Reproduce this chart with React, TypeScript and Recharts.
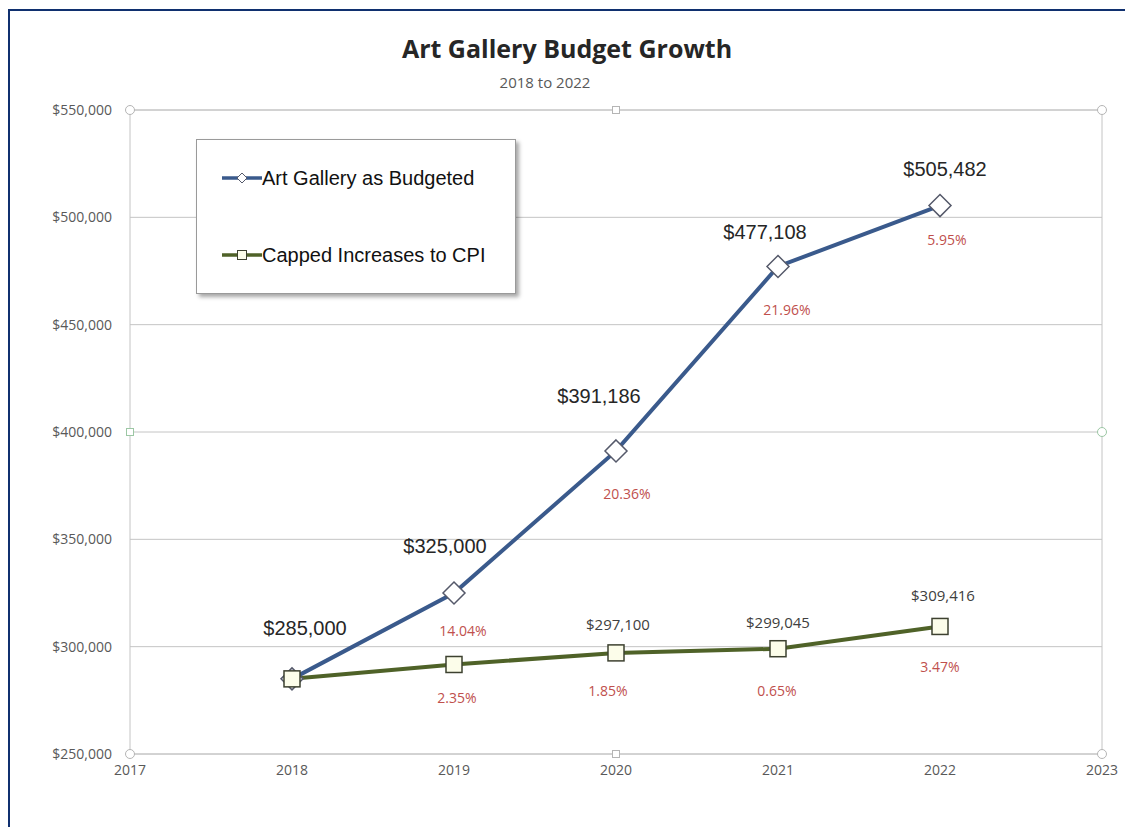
import React from 'react';
import { LineChart, Line, XAxis, YAxis, CartesianGrid, Legend, LabelList, ReferenceLine, ReferenceDot } from 'recharts';

const years = [2018, 2019, 2020, 2021, 2022];
const budgeted = [285000, 325000, 391186, 477108, 505482];
const capped = [285000, 291698, 297100, 299045, 309416];
const budgetedGrowth = [null, 14.04, 20.36, 21.96, 5.95];
const cappedGrowth = [null, 2.35, 1.85, 0.65, 3.47];
const cappedValueShown = [false, false, true, true, true];
const xTicks = [2017, 2018, 2019, 2020, 2021, 2022, 2023];
const yTicks = [250000, 300000, 350000, 400000, 450000, 500000, 550000];

const data = years.map((year, i) => ({
  year,
  budgeted: budgeted[i],
  capped: capped[i],
}));

// label nudges, like hand-placed Excel labels
const budgetedLabelShift = [
  { dx: 13, dy: -51 }, { dx: -9, dy: -47 }, { dx: -17, dy: -55 }, { dx: -13, dy: -34 }, { dx: 5, dy: -37 },
];
const budgetedPctShift = [
  { dx: 0, dy: 0 }, { dx: 9, dy: 37 }, { dx: 11, dy: 43 }, { dx: 9, dy: 43 }, { dx: 7, dy: 34 },
];
const cappedLabelShift = [
  { dx: 0, dy: 0 }, { dx: 0, dy: 0 }, { dx: 2, dy: -29 }, { dx: 0, dy: -27 }, { dx: 3, dy: -31 },
];
const cappedPctShift = [
  { dx: 0, dy: 0 }, { dx: 3, dy: 33 }, { dx: -8, dy: 38 }, { dx: -1, dy: 42 }, { dx: 0, dy: 40 },
];

const BLUE = '#3a5a8c';
const OLIVE = '#4f6228';
const RED = '#c0504d';
const GRID = '#c4c4c4';
const TICK_FONT = '"Open Sans", sans-serif';

const money = (v: number) => '$' + v.toLocaleString('en-US');

const Diamond = (props: any) => {
  const { cx, cy } = props;
  if (cx == null || cy == null) return null;
  const s = 11;
  return (
    <polygon
      points={`${cx},${cy - s} ${cx + s},${cy} ${cx},${cy + s} ${cx - s},${cy}`}
      fill="#ffffff"
      stroke="#55596a"
      strokeWidth={1.5}
    />
  );
};

const Square = (props: any) => {
  const { cx, cy } = props;
  if (cx == null || cy == null) return null;
  const s = 8;
  return <rect x={cx - s} y={cy - s} width={s * 2} height={s * 2} fill="#fcfdea" stroke="#3d4130" strokeWidth={1.5} />;
};

const Handle = (props: any) => {
  const { cx, cy, square, tint } = props;
  const stroke = tint || '#b5b5b5';
  if (square) return <rect x={cx - 3.5} y={cy - 3.5} width={7} height={7} fill="#fff" stroke={stroke} strokeWidth={1} />;
  return <circle cx={cx} cy={cy} r={4.5} fill="#fff" stroke={stroke} strokeWidth={1} />;
};

const makeLabel = (
  texts: (string | null)[],
  shifts: { dx: number; dy: number }[],
  style: { fontSize: number; fill: string; fontFamily: string }
) => (props: any) => {
  const { x, y, index } = props;
  const t = texts[index];
  if (!t) return null;
  const sh = shifts[index];
  return (
    <text
      x={x + sh.dx}
      y={y + sh.dy}
      textAnchor="middle"
      dominantBaseline="central"
      fontSize={style.fontSize}
      fill={style.fill}
      fontFamily={style.fontFamily}
    >
      {t}
    </text>
  );
};

const budgetedValueLabel = makeLabel(budgeted.map(money), budgetedLabelShift, {
  fontSize: 20, fill: '#262626', fontFamily: '"Liberation Sans", Arial, sans-serif',
});
const budgetedPctLabel = makeLabel(budgetedGrowth.map((g) => (g == null ? null : g.toFixed(2) + '%')), budgetedPctShift, {
  fontSize: 14, fill: RED, fontFamily: TICK_FONT,
});
const cappedValueLabel = makeLabel(capped.map((v, i) => (cappedValueShown[i] ? money(v) : null)), cappedLabelShift, {
  fontSize: 15, fill: '#404040', fontFamily: TICK_FONT,
});
const cappedPctLabel = makeLabel(cappedGrowth.map((g) => (g == null ? null : g.toFixed(2) + '%')), cappedPctShift, {
  fontSize: 14, fill: RED, fontFamily: TICK_FONT,
});

const LegendBox = (props: any) => {
  const { payload } = props;
  return (
    <div
      style={{
        width: 320,
        height: 155,
        boxSizing: 'border-box',
        border: '1px solid #9a9a9a',
        background: '#fff',
        boxShadow: '3px 3px 4px rgba(0,0,0,0.35)',
        fontFamily: '"Liberation Sans", Arial, sans-serif',
        fontSize: 20,
        color: '#111',
        paddingTop: 26,
      }}
    >
      {(payload || []).map((entry: any, i: number) => {
        const isBlue = entry.dataKey === 'budgeted';
        return (
          <div key={entry.value} style={{ display: 'flex', alignItems: 'center', marginLeft: 25, height: 24, marginBottom: i === 0 ? 53 : 0 }}>
            <svg width={40} height={14}>
              <line x1={0} y1={7} x2={40} y2={7} stroke={entry.color} strokeWidth={3.5} />
              {isBlue ? (
                <polygon points="20,2 25,7 20,12 15,7" fill="#fff" stroke="#55596a" strokeWidth={1} />
              ) : (
                <rect x={15.5} y={2.5} width={9} height={9} fill="#fcfdea" stroke="#3d4130" strokeWidth={1} />
              )}
            </svg>
            <span>{entry.value}</span>
          </div>
        );
      })}
    </div>
  );
};

export default function App() {
  return (
    <div
      style={{
        position: 'relative',
        width: 1125,
        height: 830,
        boxSizing: 'border-box',
        border: '2px solid #10306f',
        borderRight: 'none',
        background: '#fff',
        marginTop: 1,
      }}
    >
      <div
        style={{
          position: 'absolute',
          left: 307,
          top: 22,
          width: 500,
          textAlign: 'center',
          fontFamily: '"Open Sans", sans-serif',
          fontWeight: 700,
          fontSize: 25,
          lineHeight: '30px',
          color: '#262626',
        }}
      >
        Art Gallery Budget Growth
      </div>
      <div
        style={{
          position: 'absolute',
          left: 435,
          top: 62,
          width: 200,
          textAlign: 'center',
          fontFamily: '"Open Sans", sans-serif',
          fontSize: 15,
          lineHeight: '18px',
          color: '#595959',
        }}
      >
        2018 to 2022
      </div>
      <LineChart
        width={1115}
        height={815}
        data={data}
        margin={{ top: 99, right: 23, left: 0, bottom: 42 }}
        style={{ position: 'absolute', left: 0, top: 0 }}
      >
        <CartesianGrid horizontal vertical={false} stroke={GRID} strokeWidth={1} />
        <XAxis
          dataKey="year"
          type="number"
          domain={[2017, 2023]}
          ticks={xTicks}
          height={30}
          axisLine={false}
          tickLine={false}
          tickMargin={5}
          tick={{ fontSize: 14, fill: '#595959', fontFamily: TICK_FONT }}
        />
        <YAxis
          type="number"
          domain={[250000, 550000]}
          ticks={yTicks}
          width={120}
          axisLine={false}
          tickLine={false}
          tickMargin={12}
          tickFormatter={(v: number) => money(v)}
          tick={{ fontSize: 14, fill: '#595959', fontFamily: TICK_FONT }}
        />
        <ReferenceLine x={2017} stroke={GRID} />
        <ReferenceLine x={2023} stroke={GRID} />
        <ReferenceLine y={250000} stroke={GRID} />
        <ReferenceLine y={550000} stroke={GRID} />
        <Legend
          layout="vertical"
          align="center"
          verticalAlign="middle"
          content={<LegendBox />}
          wrapperStyle={{ left: 186, top: 128, width: 320, height: 155 }}
        />
        <Line
          name="Art Gallery as Budgeted"
          dataKey="budgeted"
          stroke={BLUE}
          strokeWidth={4}
          dot={<Diamond />}
          activeDot={false}
          isAnimationActive={false}
        >
          <LabelList dataKey="budgeted" content={budgetedValueLabel} />
          <LabelList dataKey="budgeted" content={budgetedPctLabel} />
        </Line>
        <Line
          name="Capped Increases to CPI"
          dataKey="capped"
          stroke={OLIVE}
          strokeWidth={4}
          dot={<Square />}
          activeDot={false}
          isAnimationActive={false}
        >
          <LabelList dataKey="capped" content={cappedValueLabel} />
          <LabelList dataKey="capped" content={cappedPctLabel} />
        </Line>
        <ReferenceDot x={2017} y={550000} ifOverflow="visible" shape={<Handle />} />
        <ReferenceDot x={2020} y={550000} ifOverflow="visible" shape={<Handle square />} />
        <ReferenceDot x={2023} y={550000} ifOverflow="visible" shape={<Handle />} />
        <ReferenceDot x={2017} y={400000} ifOverflow="visible" shape={<Handle square tint="#9cc7a4" />} />
        <ReferenceDot x={2023} y={400000} ifOverflow="visible" shape={<Handle tint="#9cc7a4" />} />
        <ReferenceDot x={2017} y={250000} ifOverflow="visible" shape={<Handle />} />
        <ReferenceDot x={2020} y={250000} ifOverflow="visible" shape={<Handle square />} />
        <ReferenceDot x={2023} y={250000} ifOverflow="visible" shape={<Handle />} />
      </LineChart>
    </div>
  );
}
